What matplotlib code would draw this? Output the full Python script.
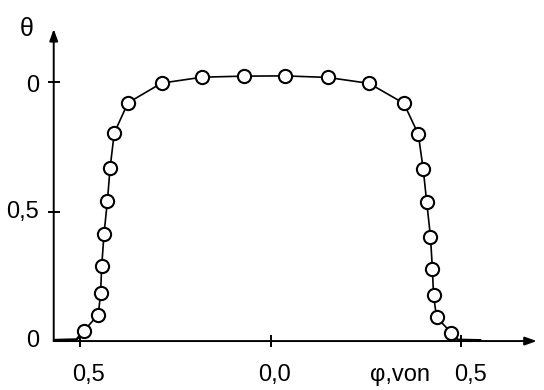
import matplotlib
matplotlib.use("Agg")
import matplotlib.pyplot as plt

# measured profile: relative value theta against phi (fraction of period)
phi = [-0.491, -0.453, -0.447, -0.444, -0.438, -0.429, -0.422, -0.411,
       -0.375, -0.287, -0.180, -0.070, 0.037, 0.149, 0.258, 0.349,
       0.387, 0.400, 0.409, 0.419, 0.424, 0.427, 0.435, 0.474]
theta = [0.039, 0.102, 0.184, 0.290, 0.413, 0.542, 0.669, 0.804,
         0.920, 0.996, 1.019, 1.023, 1.024, 1.018, 0.995, 0.918,
         0.799, 0.663, 0.538, 0.403, 0.280, 0.178, 0.091, 0.032]

# flat tails of the curve running along the baseline
tail_left_x = [-0.565, -0.51, -0.491]
tail_left_y = [0.004, 0.006, 0.039]
tail_right_x = [0.474, 0.49, 0.55]
tail_right_y = [0.032, 0.006, 0.004]

xticks = [-0.5, 0.0, 0.5]
xticklabels = ["0,5", "0,0", "0,5"]
yticks = [0.0, 0.5, 1.0]
yticklabels = ["0", "0,5", "0"]

plt.rcParams['font.family'] = ['Liberation Sans', 'DejaVu Sans']

fig = plt.figure(figsize=(5.44, 3.90), dpi=100)
ax = fig.add_axes([0, 0, 1, 1])
ax.set_xlim(-0.711, 0.717)
ax.set_ylim(-0.189, 1.317)
ax.axis("off")

x0 = -0.57  # where the vertical axis stands

# axes with arrow heads
ax.annotate("", xy=(0.698, 0), xytext=(x0, 0),
            arrowprops=dict(arrowstyle="-|>,head_length=0.7,head_width=0.25",
                            lw=1.4, color="black", shrinkA=0, shrinkB=0))
ax.annotate("", xy=(x0, 1.205), xytext=(x0, 0),
            arrowprops=dict(arrowstyle="-|>,head_length=0.7,head_width=0.25",
                            lw=1.4, color="black", shrinkA=0, shrinkB=0))

# tick marks
ax.plot(xticks, [0] * len(xticks), ls="none", marker="|", ms=9,
        mew=1.4, color="black")
ax.plot([x0] * 2, yticks[1:], ls="none", marker="_", ms=9,
        mew=1.4, color="black")

# curve
ax.plot(tail_left_x, tail_left_y, color="black", lw=1.8)
ax.plot(tail_right_x, tail_right_y, color="black", lw=1.4)
ax.plot(phi, theta, color="black", lw=1.2, marker="o", ms=9.5,
        mfc="white", mec="black", mew=1.5)

fs = 17
# x tick labels sit a little to the right of their ticks
xlab_pos = [-0.48, 0.010, 0.525]
for xp, lab in zip(xlab_pos, xticklabels):
    ax.text(xp, -0.131, lab, ha="center", va="center", fontsize=fs)
ax.text(0.34, -0.131, "φ,von", ha="center", va="center", fontsize=fs)

ylab_pos = [0.0, 0.5, 0.985]
for yp, lab in zip(ylab_pos, yticklabels):
    ax.text(-0.608, yp, lab, ha="right", va="center", fontsize=fs)
ax.text(-0.64, 1.205, "θ", ha="center", va="center", fontsize=18)

fig.savefig("out.png", dpi=100)
